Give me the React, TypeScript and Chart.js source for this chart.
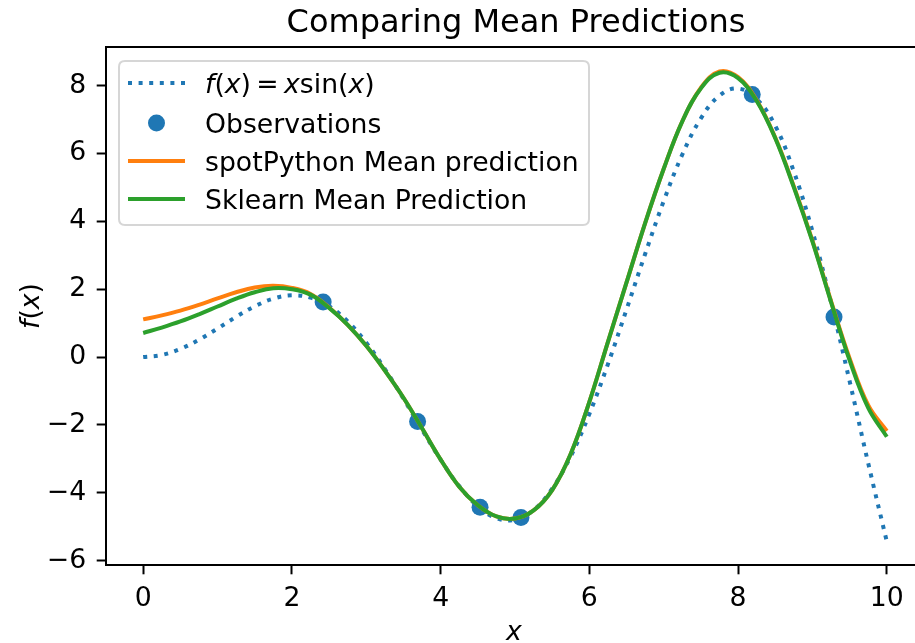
import React, { useEffect, useRef } from 'react';
import { Chart, registerables } from 'chart.js';

Chart.register(...registerables);

// ---------- data ----------
const xGrid = [
  0, 0.25, 0.5, 0.75, 1, 1.25, 1.5, 1.75, 2, 2.25, 2.5, 2.75, 3, 3.25, 3.5, 3.75, 4, 4.25, 4.5, 4.75, 5,
  5.25, 5.5, 5.75, 6, 6.25, 6.5, 6.75, 7, 7.25, 7.5, 7.75, 8, 8.25, 8.5, 8.75, 9, 9.25, 9.5, 9.75, 10,
];
const trueValues = [
  0, 0.062, 0.24, 0.511, 0.841, 1.186, 1.496, 1.722, 1.819, 1.751, 1.496, 1.05, 0.423, -0.352, -1.228,
  -2.143, -3.027, -3.804, -4.399, -4.747, -4.795, -4.509, -3.878, -2.923, -1.676, -0.207, 1.401, 3.038,
  4.599, 5.97, 7.035, 7.707, 7.915, 7.607, 6.817, 5.466, 3.709, 1.608, -0.714, -3.132, -5.44,
];
const spotValues = [
  1.11, 1.23, 1.37, 1.54, 1.73, 1.91, 2.05, 2.1, 2.04, 1.86, 1.46, 0.95, 0.33, -0.4, -1.2, -2.1, -3.02,
  -3.82, -4.37, -4.7, -4.76, -4.52, -3.92, -2.85, -1.32, 0.45, 2.2, 3.95, 5.55, 6.95, 7.94, 8.42, 8.25,
  7.57, 6.47, 5.03, 3.43, 1.65, -0.04, -1.42, -2.18,
];
const sklearnValues = [
  0.71, 0.87, 1.05, 1.26, 1.49, 1.72, 1.91, 2.03, 2.0, 1.84, 1.45, 0.95, 0.33, -0.4, -1.2, -2.1, -3.02,
  -3.82, -4.37, -4.7, -4.76, -4.52, -3.92, -2.85, -1.32, 0.45, 2.2, 3.95, 5.55, 6.95, 7.92, 8.38, 8.22,
  7.55, 6.45, 5.0, 3.4, 1.62, -0.1, -1.5, -2.35,
];
const obsX = [2.42, 3.69, 4.53, 5.08, 8.19, 9.29];
const obsY = [1.62, -1.9, -4.43, -4.73, 7.74, 1.18];

const xTicks = [0, 2, 4, 6, 8, 10];
const yTicks = [-6, -4, -2, 0, 2, 4, 6, 8];
const xRange = [-0.5, 10.5];
const yRange = [-6.13, 9.14];

const titleText = 'Comparing Mean Predictions';
const legendLabels = ['f(x) = x sin(x)', 'Observations', 'spotPython Mean prediction', 'Sklearn Mean Prediction'];

// ---------- styles ----------
const BLUE = '#1f77b4';
const ORANGE = '#ff7f0e';
const GREEN = '#2ca02c';
const FONT = '"DejaVu Sans"';
const LW = 4;
const FS = 26.7;

type Seg = { t: string; it?: boolean };

function drawRich(ctx: CanvasRenderingContext2D, segs: Seg[], x: number, y: number, size: number, align: 'left' | 'center') {
  const fontFor = (s: Seg) => `${s.it ? 'italic ' : ''}${size}px ${FONT}`;
  let total = 0;
  const widths = segs.map((s) => {
    ctx.font = fontFor(s);
    const w = ctx.measureText(s.t).width;
    total += w;
    return w;
  });
  let cx = align === 'center' ? x - total / 2 : x;
  ctx.textAlign = 'left';
  segs.forEach((s, i) => {
    ctx.font = fontFor(s);
    ctx.fillText(s.t, cx, y);
    cx += widths[i];
  });
}

const decorPlugin = {
  id: 'decor',
  afterDraw(chart: any) {
    const ctx: CanvasRenderingContext2D = chart.ctx;
    const a = chart.chartArea;
    ctx.save();
    // top and right spines
    ctx.strokeStyle = '#000';
    ctx.lineWidth = 2;
    ctx.setLineDash([]);
    ctx.beginPath();
    ctx.moveTo(a.left - 1, a.top);
    ctx.lineTo(a.right, a.top);
    ctx.lineTo(a.right, a.bottom);
    ctx.stroke();

    // title
    ctx.fillStyle = '#000';
    ctx.textBaseline = 'alphabetic';
    ctx.textAlign = 'center';
    ctx.font = `32px ${FONT}`;
    ctx.fillText(titleText, 516, 32);

    // x label
    drawRich(ctx, [{ t: 'x', it: true }], 514, 640, FS, 'center');

    // y label (rotated)
    ctx.save();
    ctx.translate(39, 306);
    ctx.rotate(-Math.PI / 2);
    drawRich(ctx, [{ t: 'f', it: true }, { t: '(' }, { t: 'x', it: true }, { t: ')' }], 0, 0, FS, 'center');
    ctx.restore();

    // legend frame
    const bx = 119, by = 61, bw = 470, bh = 164, r = 6;
    ctx.beginPath();
    ctx.moveTo(bx + r, by);
    ctx.lineTo(bx + bw - r, by);
    ctx.quadraticCurveTo(bx + bw, by, bx + bw, by + r);
    ctx.lineTo(bx + bw, by + bh - r);
    ctx.quadraticCurveTo(bx + bw, by + bh, bx + bw - r, by + bh);
    ctx.lineTo(bx + r, by + bh);
    ctx.quadraticCurveTo(bx, by + bh, bx, by + bh - r);
    ctx.lineTo(bx, by + r);
    ctx.quadraticCurveTo(bx, by, bx + r, by);
    ctx.closePath();
    ctx.fillStyle = 'rgba(255,255,255,0.8)';
    ctx.fill();
    ctx.strokeStyle = '#d6d6d6';
    ctx.lineWidth = 2;
    ctx.stroke();

    const rows = [83, 123, 161, 199];
    const hx0 = 128, hx1 = 185, tx = 205;
    // handle 0: dotted
    ctx.lineWidth = LW;
    ctx.lineCap = 'butt';
    ctx.strokeStyle = BLUE;
    ctx.setLineDash([LW, 6.6]);
    ctx.beginPath();
    ctx.moveTo(hx0, rows[0]);
    ctx.lineTo(hx1, rows[0]);
    ctx.stroke();
    ctx.setLineDash([]);
    // handle 1: marker
    ctx.fillStyle = BLUE;
    ctx.beginPath();
    ctx.arc((hx0 + hx1) / 2, rows[1], 8.5, 0, Math.PI * 2);
    ctx.fill();
    // handle 2, 3: solid lines
    [ORANGE, GREEN].forEach((c, i) => {
      ctx.strokeStyle = c;
      ctx.beginPath();
      ctx.moveTo(hx0, rows[2 + i]);
      ctx.lineTo(hx1, rows[2 + i]);
      ctx.stroke();
    });

    // legend texts
    ctx.fillStyle = '#000';
    ctx.textBaseline = 'alphabetic';
    drawRich(
      ctx,
      [
        { t: 'f', it: true }, { t: '(' }, { t: 'x', it: true }, { t: ')' }, { t: '\u2009=\u2009' },
        { t: 'x', it: true }, { t: 'sin(' }, { t: 'x', it: true }, { t: ')' },
      ],
      tx, rows[0] + 9.5, FS, 'left'
    );
    ctx.textAlign = 'left';
    ctx.font = `${FS}px ${FONT}`;
    for (let i = 1; i < 4; i++) ctx.fillText(legendLabels[i], tx, rows[i] + 9.5);
    ctx.restore();
  },
};

const toPts = (xs: number[], ys: number[]) => xs.map((x, i) => ({ x, y: ys[i] }));
const fmt = (v: number) => (v < 0 ? '\u2212' + Math.abs(v) : String(v));

export default function App() {
  const ref = useRef<HTMLCanvasElement | null>(null);
  useEffect(() => {
    if (!ref.current) return;
    Chart.defaults.font.family = FONT;
    const chart = new Chart(ref.current, {
      type: 'line',
      data: {
        datasets: [
          {
            label: legendLabels[3],
            data: toPts(xGrid, sklearnValues),
            borderColor: GREEN,
            borderWidth: LW,
            pointRadius: 0,
            tension: 0.4,
            order: 0,
          },
          {
            label: legendLabels[2],
            data: toPts(xGrid, spotValues),
            borderColor: ORANGE,
            borderWidth: LW,
            pointRadius: 0,
            tension: 0.4,
            order: 1,
          },
          {
            type: 'scatter',
            label: legendLabels[1],
            data: toPts(obsX, obsY),
            backgroundColor: BLUE,
            borderWidth: 0,
            pointRadius: 8.5,
            showLine: false,
            order: 2,
          } as any,
          {
            label: legendLabels[0],
            data: toPts(xGrid, trueValues),
            borderColor: BLUE,
            borderWidth: LW,
            borderDash: [LW, 6.6],
            borderCapStyle: 'butt',
            pointRadius: 0,
            tension: 0.4,
            order: 3,
          },
        ],
      },
      options: {
        animation: false,
        responsive: false,
        maintainAspectRatio: false,
        layout: { padding: { top: 47, right: 16, left: 0, bottom: 0 } },
        plugins: { legend: { display: false }, title: { display: false }, tooltip: { enabled: false } },
        scales: {
          x: {
            type: 'linear',
            min: xRange[0],
            max: xRange[1],
            afterBuildTicks: (s: any) => { s.ticks = xTicks.map((v) => ({ value: v })); },
            afterFit: (s: any) => { s.height = 78; },
            ticks: { color: '#000', font: { size: FS, family: FONT }, padding: 9, maxRotation: 0, callback: (v: any) => fmt(Number(v)) },
            grid: { display: true, drawOnChartArea: false, drawTicks: true, tickLength: 9.3, tickWidth: 2, tickColor: '#000' },
            border: { display: true, color: '#000', width: 2 },
          },
          y: {
            type: 'linear',
            min: yRange[0],
            max: yRange[1],
            afterBuildTicks: (s: any) => { s.ticks = yTicks.map((v) => ({ value: v })); },
            afterFit: (s: any) => { s.width = 106; },
            ticks: { color: '#000', font: { size: FS, family: FONT }, padding: 10.5, callback: (v: any) => fmt(Number(v)) },
            grid: { display: true, drawOnChartArea: false, drawTicks: true, tickLength: 9.3, tickWidth: 2, tickColor: '#000' },
            border: { display: true, color: '#000', width: 2 },
          },
        },
      },
      plugins: [decorPlugin],
    } as any);
    return () => chart.destroy();
  }, []);

  return (
    <div style={{ position: 'fixed', left: 0, top: 0, width: 915, height: 643, overflow: 'hidden', background: '#fff' }}>
      <canvas ref={ref} width={940} height={643} style={{ display: 'block', width: 940, height: 643 }} />
    </div>
  );
}
